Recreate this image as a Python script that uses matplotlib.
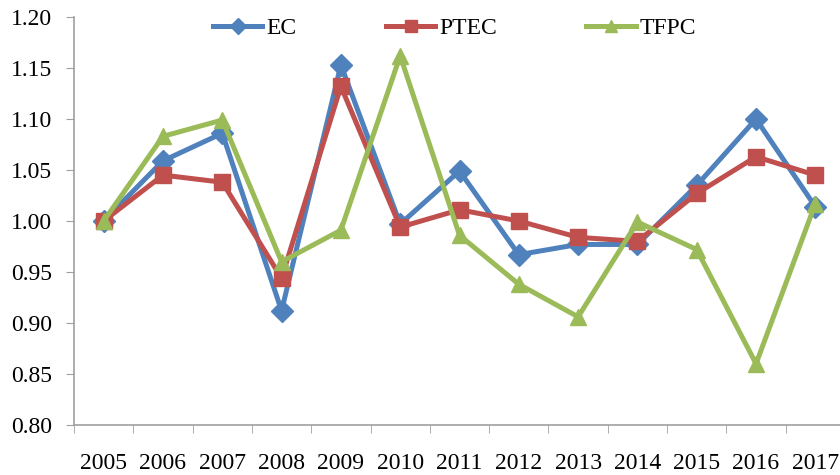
import matplotlib
matplotlib.use("Agg")
import matplotlib.pyplot as plt
import numpy as np

years = ["2005", "2006", "2007", "2008", "2009", "2010", "2011",
         "2012", "2013", "2014", "2015", "2016", "2017"]
ec = [1.000, 1.059, 1.086, 0.912, 1.153, 0.997, 1.049,
      0.967, 0.977, 0.977, 1.035, 1.100, 1.014]
ptec = [1.000, 1.045, 1.038, 0.944, 1.132, 0.994, 1.011,
        1.000, 0.984, 0.980, 1.027, 1.063, 1.045]
tfpc = [1.000, 1.083, 1.099, 0.960, 0.991, 1.162, 0.986,
        0.938, 0.906, 0.999, 0.972, 0.860, 1.017]

plt.rcParams['font.family'] = ['Liberation Serif', 'DejaVu Serif']

fig = plt.figure(figsize=(8.4, 4.75), dpi=100)
# axes extends a little past the right edge, like the cropped original
ax = fig.add_axes([74 / 840, 1 - 425 / 475, 771 / 840, 408 / 475])

x = np.arange(len(years))
ax.plot(x, ec, color='#4F81BD', lw=3.6, marker='D', ms=11, label='EC')
ax.plot(x, ptec, color='#C0504D', lw=3.6, marker='s', ms=11, label='PTEC')
ax.plot(x, tfpc, color='#9BBB59', lw=3.6, marker='^', ms=12, label='TFPC')

ax.set_xlim(-0.5, len(years) - 0.5)
ax.set_ylim(0.80, 1.20)
ax.set_yticks(np.arange(0.80, 1.201, 0.05))
ax.set_yticklabels([f"{v:.2f}" for v in np.arange(0.80, 1.201, 0.05)], fontsize=17)

ax.set_xticks(x)
ax.set_xticklabels(years, fontsize=17)
ax.set_xticks(np.arange(-0.5, len(years), 1), minor=True)
ax.tick_params(axis='x', which='major', length=0, pad=20)
ax.tick_params(axis='x', which='minor', length=6, color='#A0A0A0')
ax.tick_params(axis='y', length=6, color='#A0A0A0', pad=10)

for s in ['top', 'right']:
    ax.spines[s].set_visible(False)
for s in ['left', 'bottom']:
    ax.spines[s].set_color('#A0A0A0')
    ax.spines[s].set_linewidth(1.2)

ax.legend(loc='center', ncol=3, frameon=False, fontsize=17,
          handlelength=2.1, columnspacing=3.8, handletextpad=0.15,
          markerscale=0.75, bbox_to_anchor=(0.4935, 0.973))

fig.savefig("out.png", dpi=100)
